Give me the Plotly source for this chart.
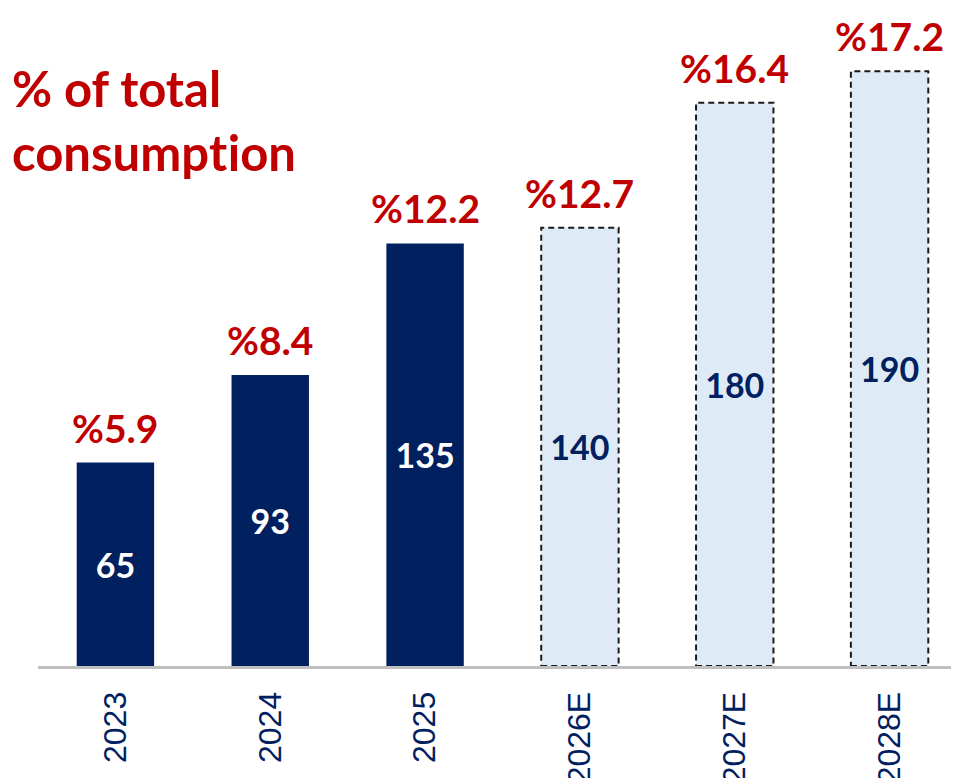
import plotly.graph_objects as go

years = ["2023", "2024", "2025", "2026E", "2027E", "2028E"]
values = [65, 93, 135, 140, 180, 190]
shares = ["%5.9", "%8.4", "%12.2", "%12.7", "%16.4", "%17.2"]
is_estimate = [False, False, False, True, True, True]

NAVY = "#002060"
LIGHT = "#DEEBF7"
RED = "#C00000"
FONT = "Lato"

idx = list(range(len(years)))

fig = go.Figure()
fig.add_trace(go.Bar(
    x=idx, y=values,
    marker=dict(color=[LIGHT if e else NAVY for e in is_estimate], line=dict(width=0)),
    text=[str(v) for v in values],
    textposition="inside", insidetextanchor="middle", textangle=0,
    textfont=dict(family=FONT, size=34, color=[NAVY if e else "white" for e in is_estimate],
                  weight="bold"),
    width=0.5, hoverinfo="skip",
))

shapes = []
for i, (v, e) in enumerate(zip(values, is_estimate)):
    if e:
        shapes.append(dict(type="rect", xref="x", yref="y", x0=i - 0.25, x1=i + 0.25, y0=0, y1=v,
                           line=dict(color="#1a1a1a", width=2, dash="6px,4px"),
                           fillcolor="rgba(0,0,0,0)", layer="above"))

annotations = []
for i, v, s in zip(idx, values, shares):
    annotations.append(dict(x=i, y=v, xref="x", yref="y", text=s, showarrow=False,
                            yanchor="bottom", yshift=10,
                            font=dict(family=FONT, size=39, color=RED, weight="bold")))
annotations.append(dict(x=-28 / 929.5, y=0.832, xref="paper", yref="paper", xanchor="left",
                        yanchor="middle", align="left", showarrow=False,
                        text="% of total<br>consump<span style=\"letter-spacing:0.5px\">t</span>ion",
                        font=dict(family=FONT, size=49, color=RED, weight="bold")))

fig.update_layout(
    width=959, height=778,
    margin=dict(l=29.5, r=0, t=2, b=120),
    paper_bgcolor="white", plot_bgcolor="white",
    showlegend=False,
    shapes=shapes, annotations=annotations,
    xaxis=dict(range=[-0.5, 5.5], showline=True, linecolor="#BFBFBF", linewidth=3,
               tickmode="array", tickvals=idx, ticktext=years,
               tickangle=-90, tickfont=dict(family="Liberation Sans", size=32, color=NAVY),
               ticklabelstandoff=10, showgrid=False, ticks="", zeroline=False),
    yaxis=dict(range=[0, 209.6], visible=False, showgrid=False, zeroline=False),
)

fig.write_html("out.html")
